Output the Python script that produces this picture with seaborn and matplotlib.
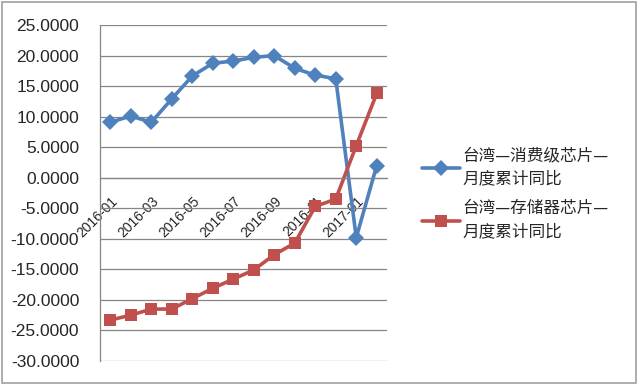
import matplotlib
matplotlib.use("Agg")
import matplotlib.pyplot as plt
import seaborn as sns
import pandas as pd
import numpy as np
from matplotlib.patches import Rectangle

months = ["2016-01", "2016-02", "2016-03", "2016-04", "2016-05", "2016-06", "2016-07",
          "2016-08", "2016-09", "2016-10", "2016-11", "2016-12", "2017-01", "2017-02"]
consumer = [9.07, 10.1, 9.07, 12.9, 16.65, 18.73, 19.1, 19.7, 20.0, 17.9, 16.8, 16.2, -9.8, 2.0]
memory = [-23.3, -22.5, -21.5, -21.5, -19.8, -18.1, -16.6, -15.1, -12.6, -10.7, -4.7, -3.5, 5.25, 13.8]
name_consumer = "台湾—消费级芯片—\n月度累计同比"
name_memory = "台湾—存储器芯片—\n月度累计同比"

sns.set_style("white")
plt.rcParams['font.family'] = ['Liberation Sans', 'Noto Sans CJK SC', 'DejaVu Sans']

df = pd.DataFrame({
    "idx": list(range(len(months))) * 2,
    "value": consumer + memory,
    "series": [name_consumer] * len(months) + [name_memory] * len(months),
})

fig = plt.figure(figsize=(6.4, 3.85), dpi=100)
ax = fig.add_axes([100/640, 1 - 361/385, 287/640, 336/385])

blue = "#4F81BD"
red = "#C0504D"
sns.lineplot(data=df, x="idx", y="value", hue="series", style="series",
             palette=[blue, red], markers=["D", "s"], dashes=False,
             linewidth=2.6, markersize=8.5, markeredgewidth=0, ax=ax, legend=True)

ax.set_xlim(-0.5, len(months) - 0.5)
ax.set_ylim(-30, 25)
yt = np.arange(-30, 26, 5)
ax.set_yticks(yt)
ax.set_yticklabels([f"{v:.4f}" for v in yt], fontsize=12.5)
ax.yaxis.grid(True, color="#868686", linewidth=0.9)
ax.set_axisbelow(True)
ax.tick_params(axis="y", length=5, width=0.9, color="#868686", direction="out", pad=10)

ax.set_xticks(range(0, len(months), 2))
ax.set_xticks(np.arange(-0.5, len(months), 2), minor=True)
ax.tick_params(axis="x", which="major", length=0, pad=12)
ax.tick_params(axis="x", which="minor", length=5, width=0.9, color="#868686", direction="out")
ax.set_xticklabels([months[i] for i in range(0, len(months), 2)], fontsize=12)
ax.set_xlabel("")
ax.set_ylabel("")

for s in ["top", "right"]:
    ax.spines[s].set_visible(False)
ax.spines["left"].set_color("#868686")
ax.spines["left"].set_linewidth(0.9)
ax.spines["bottom"].set_position(("data", 0))
ax.spines["bottom"].set_color("#868686")
ax.spines["bottom"].set_linewidth(0.9)

handles, labels = ax.get_legend_handles_labels()
ax.get_legend().remove()
leg = fig.legend(handles, labels, loc="upper left", bbox_to_anchor=(407/640, 1 - 132/385),
                 frameon=False, prop={"family": ["Noto Sans CJK SC"], "size": 12},
                 handlelength=2.3, handletextpad=0.1, labelspacing=0.8)
for t in leg.get_texts():
    t.set_linespacing(1.45)

fig.patches.append(Rectangle((2/640, 2/385), 634/640, 381/385, transform=fig.transFigure,
                             fill=False, edgecolor="#A0A0A0", linewidth=1.2))

fig.canvas.draw()
for lab in ax.get_xticklabels():
    lab.set_rotation(45)
    lab.set_ha("right")
    lab.set_va("top")
    lab.set_rotation_mode("anchor")

fig.savefig("out.png", dpi=100)
